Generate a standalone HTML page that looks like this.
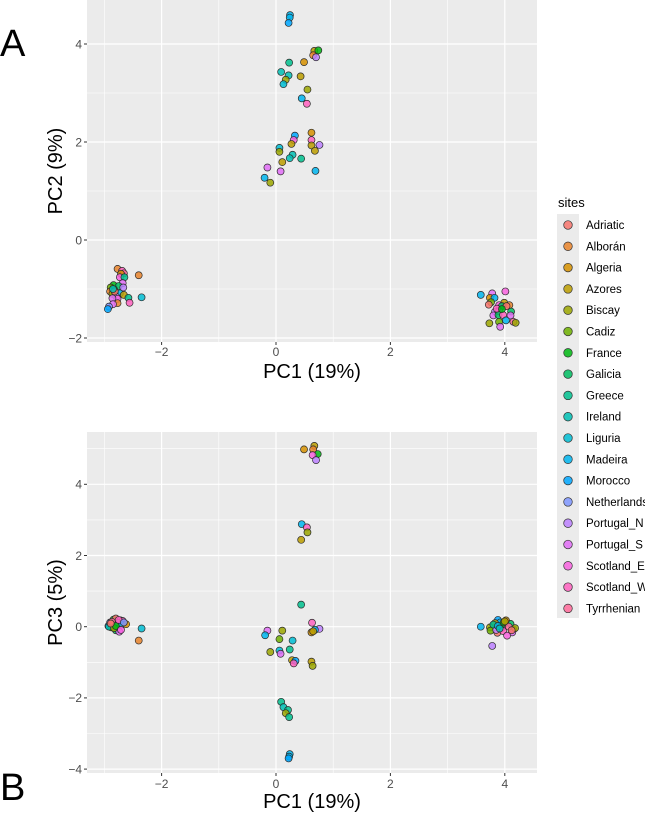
<!DOCTYPE html>
<html><head><meta charset="utf-8">
<style>
html,body{margin:0;padding:0;background:#fff;}
svg{display:block;font-family:"Liberation Sans",sans-serif;}
</style></head>
<body>
<svg id="fig" width="645" height="814" viewBox="0 0 645 814"></svg>
<script>
const sites=["Adriatic","Alborán","Algeria","Azores","Biscay","Cadiz","France","Galicia","Greece","Ireland","Liguria","Madeira","Morocco","Netherlands","Portugal_N","Portugal_S","Scotland_E","Scotland_W","Tyrrhenian"];
const xTicks=[-2,0,2,4];
const yTicksA=[-2,0,2,4];
const yTicksB=[-4,-2,0,2,4];
// Panel A: site index, PC1, PC2
const siteA=[11,11,12,3,6,1,14,8,2,9,9,3,4,10,4,11,17,12,16,3,2,17,3,14,3,10,4,9,9,8,3,15,15,11,11,4,
1,17,18,2,16,8,1,15,6,7,14,5,6,1,7,4,11,3,14,8,10,16,15,1,17,15,13,12,0,9,
11,15,16,2,11,5,0,3,16,7,1,0,14,15,7,15,7,17,15,11,18,4,4,5,15,17,6];
const pc1A=[0.245,0.24,0.22,0.67,0.74,0.65,0.70,0.23,0.49,0.09,0.22,0.43,0.17,0.13,0.55,0.45,0.54,0.33,0.31,0.27,0.62,0.62,0.62,0.76,0.68,0.06,0.06,0.29,0.24,0.44,0.11,-0.15,0.08,0.69,-0.20,-0.10,
-2.77,-2.69,-2.66,-2.71,-2.73,-2.65,-2.40,-2.68,-2.84,-2.75,-2.67,-2.89,-2.83,-2.90,-2.81,-2.86,-2.73,-2.66,-2.79,-2.58,-2.35,-2.77,-2.86,-2.77,-2.56,-2.85,-2.92,-2.94,-2.82,-2.85,
3.58,3.78,4.01,3.74,3.82,3.76,3.72,3.99,3.90,3.95,4.08,4.03,3.83,3.90,4.11,3.80,3.89,3.97,4.10,4.02,4.15,4.19,3.73,3.90,3.92,3.86,3.95];
const pc2A=[4.59,4.54,4.43,3.86,3.87,3.77,3.73,3.62,3.63,3.43,3.36,3.34,3.27,3.18,3.07,2.89,2.78,2.13,2.04,1.96,2.19,2.04,1.93,1.94,1.82,1.88,1.80,1.74,1.67,1.66,1.59,1.48,1.40,1.41,1.27,1.17,
-0.59,-0.63,-0.68,-0.69,-0.76,-0.76,-0.72,-0.88,-0.92,-0.94,-0.97,-0.97,-1.01,-1.05,-1.08,-1.10,-1.09,-1.12,-1.16,-1.18,-1.17,-1.20,-1.19,-1.29,-1.28,-1.31,-1.36,-1.41,-1.05,-1.00,
-1.12,-1.09,-1.05,-1.18,-1.18,-1.27,-1.32,-1.28,-1.33,-1.35,-1.33,-1.35,-1.46,-1.45,-1.46,-1.54,-1.53,-1.53,-1.54,-1.64,-1.67,-1.69,-1.70,-1.67,-1.77,-1.40,-1.41];
// Panel B: site index, PC1, PC3
const siteB=[2,3,1,6,16,14,11,17,4,3,8,17,14,11,2,3,15,11,4,5,10,4,10,15,8,3,12,17,3,4,8,9,8,4,8,11,11,12,
13,12,7,6,0,16,17,5,3,1,14,9,8,7,15,11,2,18,4,6,17,16,13,0,10,1,
11,14,12,11,16,15,6,3,4,5,7,0,2,1,17,18,15,14,4,8,11,9,16,6,0,3];
const pc1B=[0.49,0.67,0.65,0.73,0.64,0.70,0.45,0.54,0.55,0.44,0.44,0.63,0.76,0.68,0.62,0.65,-0.15,-0.19,0.11,0.06,0.29,-0.10,0.06,0.08,0.24,0.28,0.34,0.31,0.62,0.64,0.09,0.13,0.21,0.17,0.23,0.24,0.23,0.22,
-2.90,-2.93,-2.86,-2.84,-2.80,-2.72,-2.68,-2.88,-2.82,-2.85,-2.76,-2.92,-2.78,-2.80,-2.74,-2.70,-2.62,-2.87,-2.83,-2.80,-2.75,-2.71,-2.66,-2.89,-2.35,-2.40,
3.58,3.78,3.88,3.92,3.98,3.95,3.93,3.83,3.74,3.75,4.10,3.87,4.02,4.15,3.97,4.07,4.13,3.85,4.18,3.80,3.88,3.91,4.04,3.98,4.12,4.00];
const pc3B=[4.98,5.08,4.98,4.85,4.82,4.68,2.88,2.79,2.65,2.44,0.62,0.11,-0.06,-0.09,-0.16,-0.13,-0.11,-0.24,-0.11,-0.35,-0.39,-0.71,-0.67,-0.76,-0.64,-0.94,-0.96,-1.03,-0.98,-1.10,-2.11,-2.26,-2.34,-2.43,-2.54,-3.58,-3.65,-3.70,
0.12,0.02,0.08,0.20,0.23,0.18,0.16,-0.02,0.05,0.04,0.10,0.00,-0.06,-0.10,-0.14,0.06,0.07,0.14,-0.04,0.02,0.19,-0.09,0.12,0.09,-0.05,-0.39,
0.00,-0.54,0.19,0.12,0.06,-0.03,0.02,0.10,-0.02,-0.11,0.08,-0.17,0.18,-0.08,-0.12,0.00,-0.16,-0.09,-0.04,0.06,0.02,-0.05,-0.25,0.12,-0.10,0.15];

function hcl(h,c,l){
  const d=Math.PI/180,Xn=95.047,Yn=100,Zn=108.883;
  const un=4*Xn/(Xn+15*Yn+3*Zn),vn=9*Yn/(Xn+15*Yn+3*Zn);
  const U=c*Math.cos(h*d),V=c*Math.sin(h*d);
  const Y=Yn*Math.pow((l+16)/116,3);
  const up=U/(13*l)+un,vp=V/(13*l)+vn;
  const X=9*Y*up/(4*vp),Z=-X/3-5*Y+3*Y/vp;
  const x=X/100,y=Y/100,z=Z/100;
  let r=3.2404542*x-1.5371385*y-0.4985314*z;
  let g=-0.9692660*x+1.8760108*y+0.0415560*z;
  let b=0.0556434*x-0.2040259*y+1.0572252*z;
  const gam=v=>{v=v<=0.0031308?12.92*v:1.055*Math.pow(v,1/2.4)-0.055;return Math.round(255*Math.max(0,Math.min(1,v)));};
  return `rgb(${gam(r)},${gam(g)},${gam(b)})`;
}
const colors=sites.map((s,i)=>hcl(15+i*360/sites.length,100,65));

const NS="http://www.w3.org/2000/svg";
const svg=document.getElementById('fig');
function mk(tag,attrs,parent){const e=document.createElementNS(NS,tag);for(const k in attrs)e.setAttribute(k,attrs[k]);(parent||svg).appendChild(e);return e;}

const L=87,R=537;
const xs=v=>276+57.2*v;

function panel(key,top,bottom,ys,yTicks,minorY,yTitle,xLabY,xTitleY,sIdx,px,py){
  const g=mk('g',{});
  
  
  const bg=mk('rect',{x:L,y:top,width:R-L,height:bottom-top,fill:'#ebebeb'},g);
  
  
  [-3,-1,1,3].forEach(v=>{const l=mk('line',{x1:xs(v),x2:xs(v),y1:top,y2:bottom,stroke:'#fff','stroke-width':0.6},g);});
  minorY.forEach(v=>{const y=ys(v);if(y<top||y>bottom)return;const l=mk('line',{x1:L,x2:R,y1:y,y2:y,stroke:'#fff','stroke-width':0.6},g);});
  xTicks.forEach(v=>{
    const l=mk('line',{x1:xs(v),x2:xs(v),y1:top,y2:bottom,stroke:'#fff','stroke-width':1.2},g);
    
    
    const t=mk('line',{x1:xs(v),x2:xs(v),y1:bottom,y2:bottom+3,stroke:'#333','stroke-width':1},g);
    
    
    const tx=mk('text',{x:xs(v),y:xLabY,'text-anchor':'middle','font-size':12,fill:'#4d4d4d'},g);
    tx.textContent=v<0?'\u2212'+Math.abs(v):String(v);
    
    
  });
  yTicks.forEach(v=>{
    const y=ys(v);
    const l=mk('line',{x1:L,x2:R,y1:y,y2:y,stroke:'#fff','stroke-width':1.2},g);
    
    
    const t=mk('line',{x1:L-3,x2:L,y1:y,y2:y,stroke:'#333','stroke-width':1},g);
    
    
    const tx=mk('text',{x:L-5,y:y+4.3,'text-anchor':'end','font-size':12,fill:'#4d4d4d'},g);
    tx.textContent=v<0?'\u2212'+Math.abs(v):String(v);
    
    
  });
  for(let i=0;i<sIdx.length;i++){
    const c=mk('circle',{cx:xs(px[i]),cy:ys(py[i]),r:3.5,fill:colors[sIdx[i]],'fill-opacity':0.85,stroke:'#2a2a2a','stroke-width':0.7},g);
    
    
  }
  const xt=mk('text',{x:(L+R)/2,y:xTitleY,'text-anchor':'middle','font-size':20,fill:'#000'},g);
  xt.textContent='PC1 (19%)';
  
  
  const cy=(top+bottom)/2;
  const yt=mk('text',{x:0,y:0,'text-anchor':'middle','font-size':20,fill:'#000',transform:`translate(62,${cy}) rotate(-90)`},g);
  yt.textContent=yTitle;
  
  
}
const ysA=v=>240-49*v;
const ysB=v=>626.7-35.6*v;
panel('a',0,342,ysA,yTicksA,[-1,1,3],'PC2 (9%)',356,378,siteA,pc1A,pc2A);
panel('b',432,773,ysB,yTicksB,[-3,-1,1,3,5],'PC3 (5%)',788,808,siteB,pc1B,pc3B);

const la=mk('text',{x:0,y:56,'font-size':38,fill:'#000'});
la.textContent='A';


const lb=mk('text',{x:0,y:800,'font-size':38,fill:'#000'});
lb.textContent='B';



const lg=mk('g',{});


const lt=mk('text',{x:558,y:207,'font-size':13,fill:'#000'},lg);
lt.textContent='sites';


const kb=mk('rect',{x:557,y:214,width:22,height:404,fill:'#ebebeb'},lg);


sites.forEach((s,i)=>{
  const y=225+i*21.3;
  const c=mk('circle',{cx:568,cy:y,r:4.3,fill:colors[i],'fill-opacity':0.85,stroke:'#333','stroke-width':0.7},lg);
  
  
  const t=mk('text',{x:586,y:y+4,'font-size':11.5,fill:'#000'},lg);
  t.textContent=s;
  
  
});
</script>
</body></html>
